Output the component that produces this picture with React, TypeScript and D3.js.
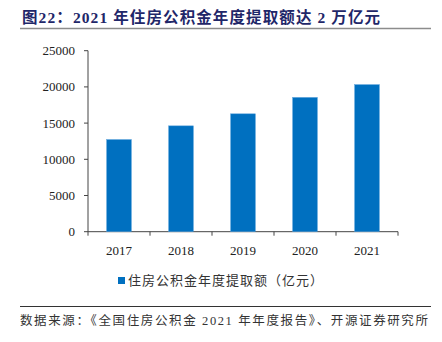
import React from "react";
import * as d3 from "d3";

const categories = ["2017", "2018", "2019", "2020", "2021"];
const values = [12730, 14620, 16282, 18551, 20317];
const yTicks = [0, 5000, 10000, 15000, 20000, 25000];
const titleText = "图22：2021 年住房公积金年度提取额达 2 万亿元";
const legendText = "住房公积金年度提取额（亿元）";
const sourceText = "数据来源：《全国住房公积金 2021 年年度报告》、开源证券研究所";

const serif = "'Liberation Serif', 'Times New Roman', 'Noto Sans CJK SC', serif";
const cjk = "'Liberation Serif', 'Noto Sans CJK SC', sans-serif";

export default function App() {
  const W = 442, H = 342;
  const x0 = 88, x1 = 398, yTop = 50.7, yBot = 231.7;
  const x = d3.scaleBand<string>().domain(categories).range([x0, x1]).paddingInner(0.6).paddingOuter(0.3);
  const y = d3.scaleLinear().domain([0, 25000]).range([yBot, yTop]);
  const bounds = d3.range(categories.length + 1).map((i) => x0 + i * ((x1 - x0) / categories.length));
  return (
    <svg width={W} height={H} style={{ position: "absolute", left: 0, top: 0, background: "#fff" }}>
      <text x={22} y={23} fontFamily={cjk} fontWeight="bold" fontSize={15.5} fill="#1F2769" textLength={358} lengthAdjust="spacing">{titleText}</text>
      <line x1={20} x2={431} y1={28.5} y2={28.5} stroke="#8c8c8c" strokeWidth={1.5} />
      {yTicks.map((t) => (
        <g key={t}>
          <line x1={x0 - 4} x2={x0} y1={y(t)} y2={y(t)} stroke="#444" strokeWidth={1} />
          <text x={75} y={y(t) + 4.5} textAnchor="end" fontFamily={serif} fontSize={13} fill="#222">{t}</text>
        </g>
      ))}
      <line x1={x0} x2={x0} y1={yTop} y2={yBot} stroke="#444" strokeWidth={1} />
      <line x1={x0} x2={x1} y1={yBot} y2={yBot} stroke="#444" strokeWidth={1} />
      {bounds.map((b, i) => (
        <line key={i} x1={b} x2={b} y1={yBot} y2={yBot + 4} stroke="#444" strokeWidth={1} />
      ))}
      {categories.map((c, i) => (
        <g key={c}>
          <rect x={x(c)!} y={y(values[i])} width={x.bandwidth()} height={yBot - y(values[i])} fill="#0070C0" stroke="#5fa3db" strokeWidth={0.5} />
          <text x={x(c)! + x.bandwidth() / 2} y={255} textAnchor="middle" fontFamily={serif} fontSize={13} fill="#222">{c}</text>
        </g>
      ))}
      <rect x={118} y={277} width={7} height={7} fill="#0070C0" />
      <text x={128} y={285} fontFamily={cjk} fontSize={13} fill="#333" textLength={195} lengthAdjust="spacing">{legendText}</text>
      <line x1={20} x2={431} y1={306.5} y2={306.5} stroke="#333" strokeWidth={1} />
      <text x={20} y={325} fontFamily={cjk} fontSize={12.5} fill="#333" textLength={408} lengthAdjust="spacing">{sourceText}</text>
    </svg>
  );
}
